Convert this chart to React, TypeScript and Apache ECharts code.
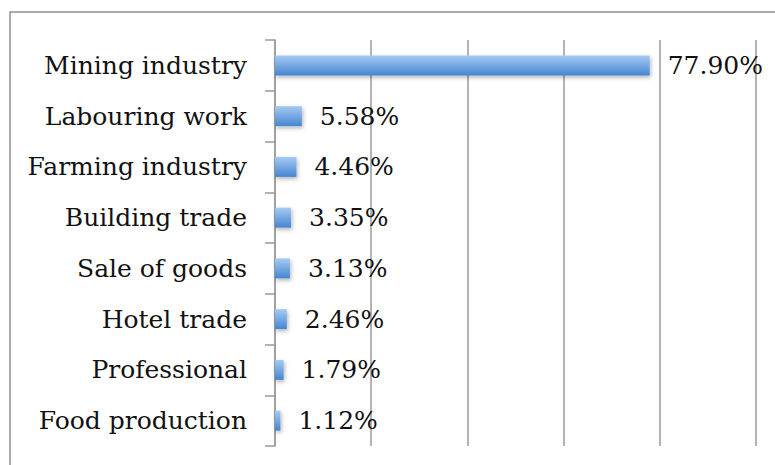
import React, { useEffect, useRef } from "react";
import * as echarts from "echarts";

const categories = [
  "Mining industry",
  "Labouring work",
  "Farming industry",
  "Building trade",
  "Sale of goods",
  "Hotel trade",
  "Professional",
  "Food production",
];
const values = [77.9, 5.58, 4.46, 3.35, 3.13, 2.46, 1.79, 1.12];

const FONT = "DejaVu Serif";

export default function App() {
  const ref = useRef<HTMLDivElement>(null);
  useEffect(() => {
    if (!ref.current) return;
    const chart = echarts.init(ref.current, null, { renderer: "svg" });
    chart.setOption({
      animation: false,
      backgroundColor: "#ffffff",
      graphic: [
        {
          type: "rect",
          shape: { x: 10, y: 12, width: 800, height: 500 },
          style: { fill: "none", stroke: "#8e8e8e", lineWidth: 1.5 },
          silent: true,
        },
      ],
      grid: { left: 275, top: 40, width: 481, height: 406, containLabel: false },
      xAxis: {
        type: "value",
        min: 0,
        max: 100,
        interval: 20,
        axisLabel: { show: false },
        axisLine: { show: false },
        axisTick: { show: false },
        splitLine: { show: true, lineStyle: { color: "#9a9a9a", width: 1.5 } },
      },
      yAxis: {
        type: "category",
        data: categories,
        inverse: true,
        axisLine: { show: true, lineStyle: { color: "#9a9a9a", width: 1.5 } },
        axisTick: { show: true, length: 10, lineStyle: { color: "#9a9a9a", width: 1.5 } },
        axisLabel: {
          margin: 28,
          color: "#111111",
          fontFamily: FONT,
          fontSize: 25,
          padding: [4, 0, 0, 0],
        },
      },
      series: [
        {
          type: "bar",
          data: values,
          barWidth: 20,
          itemStyle: {
            color: new echarts.graphic.LinearGradient(0, 0, 0, 1, [
              { offset: 0, color: "#a6cbf3" },
              { offset: 1, color: "#4585d2" },
            ]),
            shadowColor: "rgba(0,0,0,0.3)",
            shadowBlur: 4,
            shadowOffsetY: 2,
            shadowOffsetX: 1,
          },
          label: {
            show: true,
            position: "right",
            distance: 18,
            color: "#111111",
            fontFamily: FONT,
            fontSize: 25,
            padding: [4, 0, 0, 0],
            formatter: (p: any) => p.value.toFixed(2) + "%",
          },
        },
      ],
    });
    return () => chart.dispose();
  }, []);
  return (
    <div
      ref={ref}
      style={{ position: "fixed", left: 0, top: 0, width: 775, height: 465 }}
    />
  );
}
